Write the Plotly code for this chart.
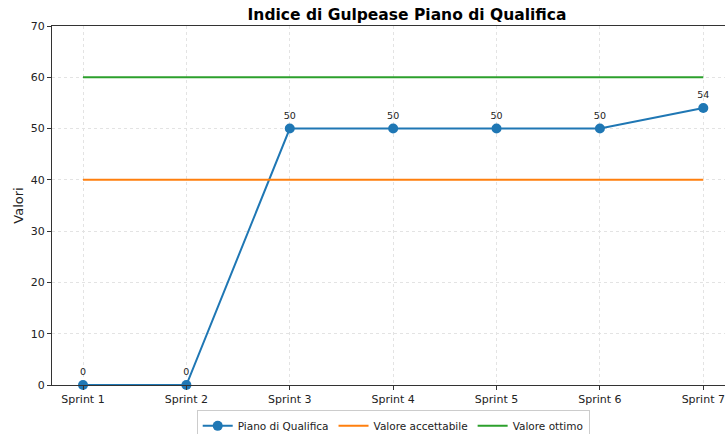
import plotly.graph_objects as go

sprints = ["Sprint 1", "Sprint 2", "Sprint 3", "Sprint 4", "Sprint 5", "Sprint 6", "Sprint 7"]
piano_qualifica = [0, 0, 50, 50, 50, 50, 54]
valore_accettabile = [40] * len(sprints)
valore_ottimo = [60] * len(sprints)

font = "DejaVu Sans"
fig = go.Figure()
fig.add_trace(go.Scatter(
    x=sprints, y=piano_qualifica, mode="lines+markers+text", name="Piano di Qualifica",
    line=dict(color="#1f77b4", width=2), marker=dict(size=10, color="#1f77b4"),
    text=[str(v) for v in piano_qualifica], textposition="top center",
    textfont=dict(size=9.5, color="#222", family=font), cliponaxis=False,
))
fig.add_trace(go.Scatter(
    x=sprints, y=valore_accettabile, mode="lines", name="Valore accettabile",
    line=dict(color="#ff7f0e", width=2),
))
fig.add_trace(go.Scatter(
    x=sprints, y=valore_ottimo, mode="lines", name="Valore ottimo",
    line=dict(color="#2ca02c", width=2),
))

fig.update_layout(
    width=725, height=434,
    margin=dict(l=52, r=0, t=26, b=49, autoexpand=False),
    paper_bgcolor="white", plot_bgcolor="white",
    font=dict(family=font, size=10, color="#222"),
    title=dict(text="<b>Indice di Gulpease Piano di Qualifica</b>", x=407 / 725, xanchor="center",
               y=1 - 15 / 434, yanchor="middle", font=dict(size=15.5, color="black")),
    legend=dict(orientation="h", x=0.507, xanchor="center", y=-0.157, yanchor="bottom",
                bordercolor="#cccccc", borderwidth=1, font=dict(size=10.5, color="#222"),
                itemwidth=30, tracegroupgap=0),
    showlegend=True,
)
fig.update_xaxes(
    range=[-0.3, 6.21], showline=True, linecolor="#333", linewidth=1, mirror=True,
    ticks="outside", ticklen=4, tickcolor="#333", automargin=False,
    showgrid=True, gridcolor="#e3e3e3", griddash="3px,3px", gridwidth=1,
    tickfont=dict(size=11, color="#222"),
)
fig.update_yaxes(
    range=[0, 70], dtick=10, showline=True, linecolor="#333", linewidth=1,
    ticks="outside", ticklen=4, tickcolor="#333", automargin=False,
    showgrid=True, gridcolor="#e3e3e3", griddash="3px,3px", gridwidth=1, zeroline=False,
    title=dict(text="Valori", font=dict(size=13, color="#222"), standoff=4),
    tickfont=dict(size=11, color="#222"),
)

fig.write_html(
    "out.html",
    config={"displayModeBar": False},
    post_script="document.body.style.margin='0';document.body.style.overflow='hidden';",
)
